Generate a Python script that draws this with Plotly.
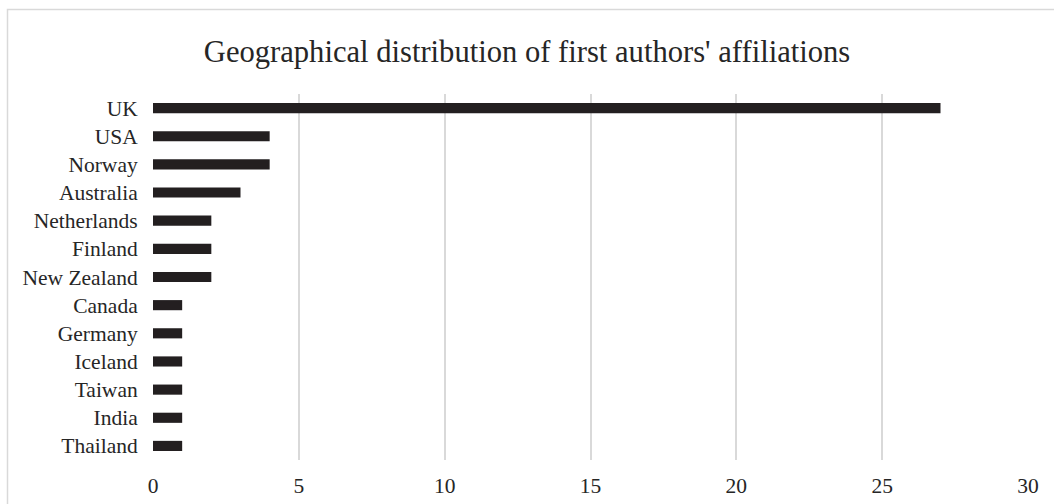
import plotly.graph_objects as go

countries = ["UK", "USA", "Norway", "Australia", "Netherlands", "Finland",
             "New Zealand", "Canada", "Germany", "Iceland", "Taiwan", "India",
             "Thailand"]
counts = [27, 4, 4, 3, 2, 2, 2, 1, 1, 1, 1, 1, 1]
x_ticks = [0, 5, 10, 15, 20, 25, 30]

W, H = 1054, 504
ML, MR, MT, MB = 153, 26, 94, 44
pw, ph = W - ML - MR, H - MT - MB


def px_to_paper_x(px):
    return (px - ML) / pw


def px_to_paper_y(py):
    return (H - MB - py) / ph


fig = go.Figure(go.Bar(
    x=counts,
    y=countries,
    orientation="h",
    width=0.36,
    marker=dict(color="#231f20", line=dict(width=0)),
))

fig.update_layout(
    width=W, height=H,
    margin=dict(l=ML, r=MR, t=MT, b=MB, autoexpand=False),
    paper_bgcolor="white",
    plot_bgcolor="white",
    font=dict(family="Liberation Serif, Times New Roman, serif", size=21.5, color="#262626"),
    title=dict(
        text="Geographical distribution of first authors' affiliations",
        x=0.5, xanchor="center", xref="container",
        y=1 - 51 / H, yanchor="middle", yref="container",
        font=dict(size=30.6, color="#262626"),
    ),
    showlegend=False,
    xaxis=dict(
        range=[0, 30],
        tickvals=x_ticks,
        showgrid=True, gridcolor="#d9d9d9", gridwidth=2,
        zeroline=False, showline=False,
        ticks="outside", ticklen=6, tickcolor="rgba(0,0,0,0)",
        automargin=False,
        fixedrange=True,
    ),
    yaxis=dict(
        categoryorder="array", categoryarray=countries,
        autorange="reversed",
        showgrid=False, zeroline=False, showline=False,
        ticks="outside", ticklen=10, tickcolor="rgba(0,0,0,0)",
        automargin=False,
        fixedrange=True,
    ),
    shapes=[dict(
        type="rect", xref="paper", yref="paper",
        x0=px_to_paper_x(7.5), x1=px_to_paper_x(W + 10),
        y0=px_to_paper_y(H + 10), y1=px_to_paper_y(9.5),
        line=dict(color="#d9d9d9", width=1.5),
        fillcolor="rgba(0,0,0,0)", layer="below",
    )],
)

fig.write_html("out.html")
